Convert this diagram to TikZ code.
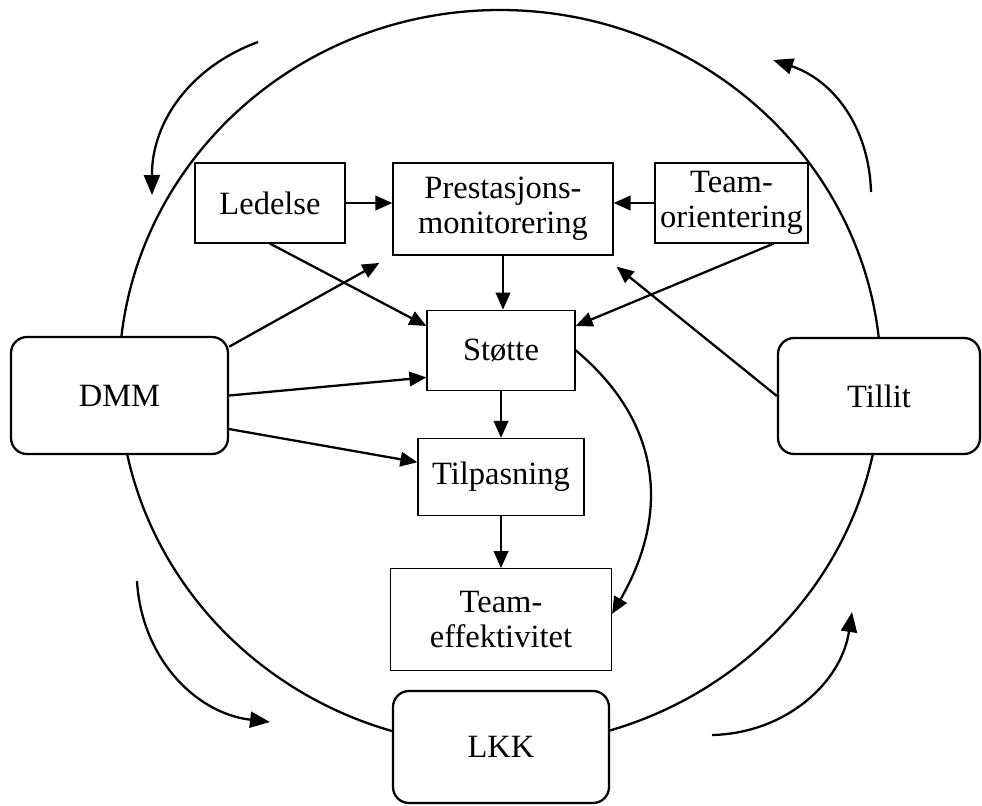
\documentclass[tikz,border=0pt]{standalone}
\usepackage{fontspec}
\setmainfont{Liberation Serif}
\usetikzlibrary{arrows.meta, positioning, calc}

\begin{document}
\begin{tikzpicture}[
        box/.style={rectangle, draw, fill=white, line width=0.7pt, align=center,
                    inner sep=2pt, font=\fontsize{18.5}{20}\selectfont},
        rbox/.style={rectangle, draw, fill=white, rounded corners=0.32cm, line width=1.3pt,
                    align=center, font=\fontsize{18.5}{20}\selectfont},
        line/.style={-{Triangle[length=3.4mm, width=2.9mm]}, line width=1.3pt},
        cyc/.style={-{Triangle[length=4mm, width=3.2mm]}, line width=1.3pt}
    ]
    \useasboundingbox (0,0) rectangle (19.64,-16.1);
    % outer circle
    \draw[line width=1.3pt] (10,-7.56) ellipse [x radius=7.62, y radius=7.36];

    \node [box, minimum width=4.4cm, minimum height=1.84cm] (prest) at (10.06,-4.18) {Prestasjons-\\monitorering};
    \node [box, minimum width=3.0cm, minimum height=1.6cm] (ledelse) at (5.4,-4.06) {Ledelse};
    \node [box, minimum width=3.06cm, minimum height=1.6cm] (teamor) at (14.63,-4.06) {Team-\\orientering};
    \node [box, minimum width=2.96cm, minimum height=1.6cm, below=1.08cm of prest, xshift=-0.04cm] (stotte) {Støtte};
    \node [box, minimum width=3.32cm, minimum height=1.54cm, below=0.94cm of stotte] (tilp) {Tilpasning};
    \node [box, minimum width=4.42cm, minimum height=2.04cm, below=1.04cm of tilp] (teff) {Team-\\effektivitet};

    \node [rbox, minimum width=4.34cm, minimum height=2.34cm] (dmm) at (2.39,-7.91) {DMM};
    \node [rbox, minimum width=4.04cm, minimum height=2.32cm] (tillit) at (17.58,-7.92) {Tillit};
    \node [rbox, minimum width=4.32cm, minimum height=2.24cm] (lkk) at (10.02,-14.94) {LKK};

    \draw[line] (ledelse.east) -- (ledelse.east -| prest.west);
    \draw[line] (teamor.west) -- (teamor.west -| prest.east);
    \draw[line] (prest.south) -- (prest.south |- stotte.north);
    \draw[line] (ledelse.south) -- (stotte.162);
    \draw[line] (teamor.316) -- (stotte.18);
    \draw[line, shorten >=0.3cm] (dmm.24) -- (prest.south west);
    \draw[line] (dmm.east) -- (stotte.200);
    \draw[line] (dmm.343) -- (tilp.170);
    \draw[line, shorten >=0.35cm] (tillit.west) -- (prest.335);
    \draw[line] (stotte.south) -- (stotte.south |- tilp.north);
    \draw[line] (tilp.south) -- (tilp.south |- teff.north);
    \draw[line] (stotte.east) to[out=-40, in=60, looseness=1.1] (teff.3);

    % arrows round the circle
    \coordinate (c1s) at (5.16,-0.84);
    \coordinate (c1e) at (3.04,-3.9);
    \coordinate (c2s) at (17.42,-3.84);
    \coordinate (c2e) at (15.46,-1.2);
    \coordinate (c3s) at (2.74,-11.62);
    \coordinate (c3e) at (5.4,-14.44);
    \coordinate (c4s) at (14.24,-14.7);
    \coordinate (c4e) at (17.04,-12.24);
    \draw[cyc] (c1s) to[bend right=35] (c1e);
    \draw[cyc] (c2s) to[bend right=35] (c2e);
    \draw[cyc] (c3s) to[bend right=40] (c3e);
    \draw[cyc] (c4s) to[bend right=40] (c4e);
\end{tikzpicture}
\end{document}
